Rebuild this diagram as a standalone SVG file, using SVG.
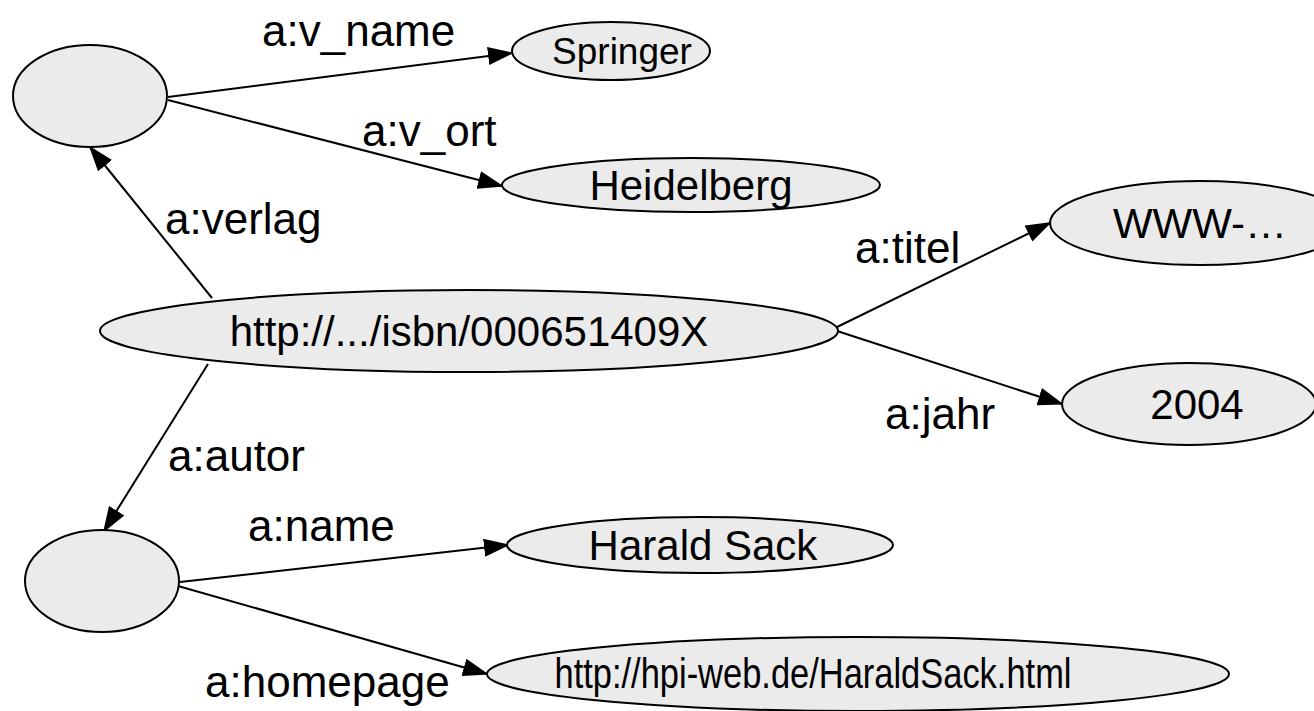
<svg xmlns="http://www.w3.org/2000/svg" width="1314" height="711" viewBox="0 0 1314 711">
<style>
.n{fill:#ebebeb;stroke:#000;stroke-width:2}
.e{stroke:#000;stroke-width:2;fill:none;marker-end:url(#a)}
text{font-family:"Liberation Sans",Arial,sans-serif;fill:#000}
.t{font-size:42px;text-anchor:middle}
.l{font-size:44px}
</style>
<defs>
<marker id="a" markerUnits="userSpaceOnUse" markerWidth="26" markerHeight="18" refX="24" refY="9" orient="auto" viewBox="0 0 26 18">
<path d="M0,0 L26,9 L0,18 z" fill="#000"/>
</marker>
</defs>
<rect width="1314" height="711" fill="#fff"/>
<g id="connectors">
<line class="e" x1="168" y1="97" x2="512" y2="53"/>
<line class="e" x1="168" y1="100" x2="502" y2="186"/>
<line class="e" x1="212" y1="298" x2="90" y2="147"/>
<line class="e" x1="837" y1="327" x2="1050" y2="223"/>
<line class="e" x1="837" y1="331" x2="1062" y2="404"/>
<line class="e" x1="208" y1="364" x2="104" y2="531"/>
<line class="e" x1="180" y1="582" x2="508" y2="545"/>
<line class="e" x1="178" y1="586" x2="487" y2="674"/>
</g>
<g id="labels">
<text class="l" x="262" y="46">a:v_name</text>
<text class="l" x="362" y="146">a:v_ort</text>
<text class="l" x="165" y="234">a:verlag</text>
<text class="l" x="855" y="263">a:titel</text>
<text class="l" x="885" y="429">a:jahr</text>
<text class="l" x="168" y="471">a:autor</text>
<text class="l" x="248" y="541">a:name</text>
<text class="l" x="205" y="697">a:homepage</text>
</g>
<g id="n-blank1"><ellipse class="n" cx="90" cy="96" rx="77" ry="51"/></g>
<g id="n-springer"><ellipse class="n" cx="611" cy="51" rx="99" ry="29"/><text class="t" x="622" y="64" style="font-size:37px">Springer</text></g>
<g id="n-heidelberg"><ellipse class="n" cx="691" cy="185" rx="189" ry="27"/><text class="t" x="691" y="200">Heidelberg</text></g>
<g id="n-isbn"><ellipse class="n" cx="469" cy="331" rx="369" ry="41"/><text class="t" x="469" y="346">http://.../isbn/000651409X</text></g>
<g id="n-www"><ellipse class="n" cx="1200" cy="223" rx="150" ry="42"/><text class="t" x="1200" y="238">WWW-…</text></g>
<g id="n-2004"><ellipse class="n" cx="1189" cy="404" rx="127" ry="41"/><text class="t" x="1197" y="419">2004</text></g>
<g id="n-blank2"><ellipse class="n" cx="102" cy="581" rx="77" ry="51"/></g>
<g id="n-sack"><ellipse class="n" cx="700" cy="545" rx="193" ry="28"/><text class="t" x="703" y="560">Harald Sack</text></g>
<g id="n-homepage"><ellipse class="n" cx="858" cy="674" rx="371" ry="37"/><text class="t" x="813" y="688" textLength="517" lengthAdjust="spacingAndGlyphs">http://hpi-web.de/HaraldSack.html</text></g>
</svg>
